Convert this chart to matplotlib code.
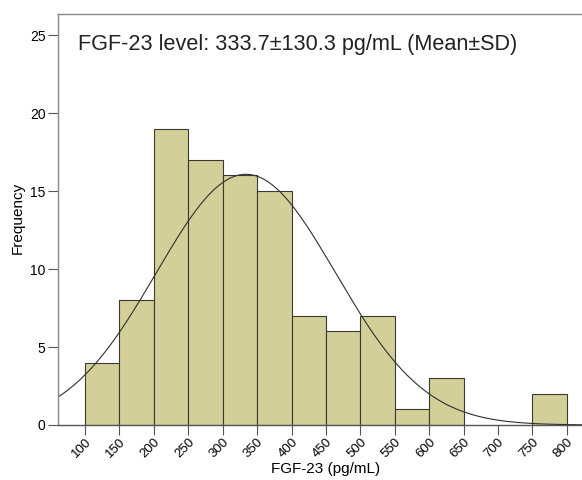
import numpy as np
import matplotlib
matplotlib.use("Agg")
from matplotlib import pyplot as plt

plt.rcParams['font.family'] = ['Liberation Sans', 'DejaVu Sans']

# histogram data (bin edges in pg/mL, counts per bin)
bin_edges = [100, 150, 200, 250, 300, 350, 400, 450, 500, 550, 600, 650, 700, 750, 800]
counts = [4, 8, 19, 17, 16, 15, 7, 6, 7, 1, 3, 0, 0, 2]
mean_val = 333.7
sd_val = 130.3
n_total = 105
x_ticks = [100, 150, 200, 250, 300, 350, 400, 450, 500, 550, 600, 650, 700, 750, 800]
y_ticks = [0, 5, 10, 15, 20, 25]

fig = plt.figure(figsize=(5.82, 4.8), dpi=100)
ax = fig.add_axes([58 / 582, 1 - 425 / 480, 1 - 58 / 582, (425 - 14) / 480])

lefts = bin_edges[:-1]
widths = np.diff(bin_edges)
for l, w, c in zip(lefts, widths, counts):
    if c > 0:
        ax.bar(l, c, width=w, align="edge", color="#d3cf98", edgecolor="#3a3a30", linewidth=0.8)

# fitted normal curve
xlim = (60.7, 822)
xs = np.linspace(xlim[0], xlim[1], 400)
bw = 50
ys = n_total * bw / (sd_val * np.sqrt(2 * np.pi)) * np.exp(-(xs - mean_val) ** 2 / (2 * sd_val ** 2))
ax.plot(xs, ys, color="#303030", linewidth=0.8)

ax.set_xlim(*xlim)
ax.set_ylim(0, 26.35)
ax.set_xticks(x_ticks)
ax.set_xticklabels([str(t) for t in x_ticks], rotation=45, ha="right", rotation_mode="anchor", fontsize=9.5)
ax.set_yticks(y_ticks)
ax.set_yticklabels([str(t) for t in y_ticks], fontsize=10)
ax.tick_params(axis="both", length=7, width=0.8, color="#555555", pad=2)
ax.tick_params(axis="x", pad=1)

for s in ["left", "top", "bottom"]:
    ax.spines[s].set_color("#888888")
    ax.spines[s].set_linewidth(1.0)
ax.spines["bottom"].set_color("#555555")
ax.spines["right"].set_visible(False)

fig.text(326 / 582, 1 - 469 / 480, "FGF-23 (pg/mL)", fontsize=11, ha="center", va="center")
fig.text(18 / 582, 1 - 218 / 480, "Frequency", fontsize=11, ha="center", va="center", rotation=90)
fig.text(78 / 582, 1 - 50 / 480, "FGF-23 level: 333.7\u00b1130.3 pg/mL (Mean\u00b1SD)",
         fontsize=15.6, color="#222222", va="baseline")

fig.savefig("out.png", dpi=100)
